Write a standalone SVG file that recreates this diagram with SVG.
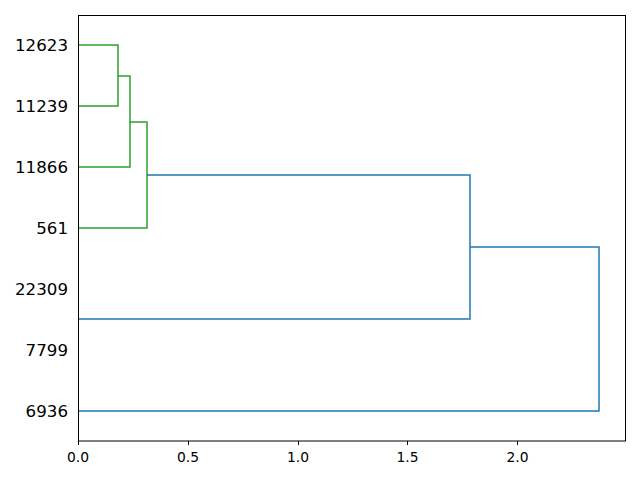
<svg xmlns="http://www.w3.org/2000/svg" width="640" height="480" viewBox="0 0 640 480">
<style>
.g{fill:none;stroke:#2ca02c;stroke-width:1.5;stroke-linejoin:miter}
.b{fill:none;stroke:#1f77b4;stroke-width:1.5;stroke-linejoin:miter}
.yl{font-family:"DejaVu Sans",sans-serif;font-size:16.67px;fill:#000;text-anchor:end}
.xl{font-family:"DejaVu Sans",sans-serif;font-size:13.89px;fill:#000;text-anchor:middle}
.tick{stroke:#000;stroke-width:1}
</style>
<rect x="0" y="0" width="640" height="480" fill="#fff"/>
<g id="connectors">
<polyline class="g" points="78,45 118,45 118,106 78,106"/>
<polyline class="g" points="118,76 130,76 130,167 78,167"/>
<polyline class="g" points="130,122 147,122 147,228 78,228"/>
<polyline class="b" points="147,175 470,175 470,319 78,319"/>
<polyline class="b" points="470,247 599,247 599,411 78,411"/>
</g>
<g id="axes">
<rect x="78.5" y="15.5" width="547" height="425.5" fill="none" stroke="#000" stroke-width="1"/>
<line class="tick" x1="78.5" y1="441" x2="78.5" y2="445"/>
<line class="tick" x1="188.5" y1="441" x2="188.5" y2="445"/>
<line class="tick" x1="298.5" y1="441" x2="298.5" y2="445"/>
<line class="tick" x1="407.5" y1="441" x2="407.5" y2="445"/>
<line class="tick" x1="517.5" y1="441" x2="517.5" y2="445"/>
<text class="xl" x="78" y="462">0.0</text>
<text class="xl" x="188" y="462">0.5</text>
<text class="xl" x="298" y="462">1.0</text>
<text class="xl" x="407.5" y="462">1.5</text>
<text class="xl" x="517.5" y="462">2.0</text>
</g>
<g id="leaf-12623"><text class="yl" x="68" y="51">12623</text></g>
<g id="leaf-11239"><text class="yl" x="68" y="112">11239</text></g>
<g id="leaf-11866"><text class="yl" x="68" y="173">11866</text></g>
<g id="leaf-561"><text class="yl" x="68" y="234">561</text></g>
<g id="leaf-22309"><text class="yl" x="68" y="295">22309</text></g>
<g id="leaf-7799"><text class="yl" x="68" y="356">7799</text></g>
<g id="leaf-6936"><text class="yl" x="68" y="417">6936</text></g>
</svg>
